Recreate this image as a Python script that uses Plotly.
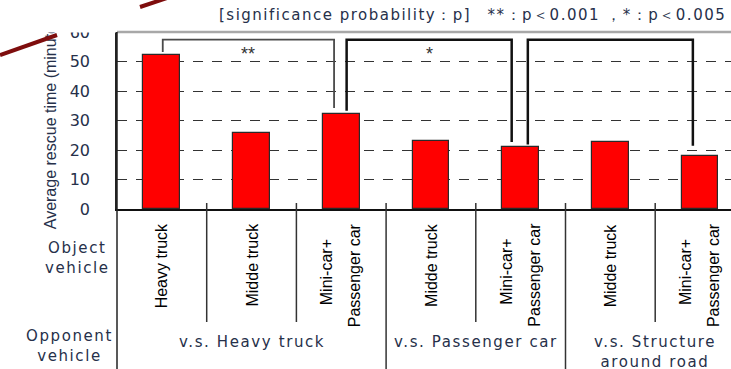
import plotly.graph_objects as go

# ---------------- data ----------------
object_vehicle = [["Heavy truck"], ["Midde truck"], ["Mini-car+", "Passenger car"],
                  ["Midde truck"], ["Mini-car+", "Passenger car"],
                  ["Midde truck"], ["Mini-car+", "Passenger car"]]
rescue_time = [52.2, 25.9, 32.2, 23.2, 21.1, 22.6, 18.0]
opponent_groups = ["v.s. Heavy truck", "v.s. Passenger car", "v.s. Structure<br>around road"]
group_sizes = [3, 2, 2]
y_ticks = [0, 10, 20, 30, 40, 50, 60]
row_titles = [["Object", "vehicle"], ["Opponent", "vehicle"]]
y_title = "Average rescue time (minutes)"
significance_note = "[significance probability：p]　**：p＜0.001 ，*：p＜0.005"
comparisons = [(0, 2, "**"), (2, 4, "*"), (4, 6, "")]

# ---------------- layout geometry ----------------
W, H = 731, 369
ML, MT, MB = 117, 32, 160
PH = H - MT - MB
PW = W - ML
COL = 89.7  # px per category
x_range = [-0.5, -0.5 + PW / COL]

def pyp(py):
    return (MT + PH - py) / PH

def pxp(px):
    return (px - ML) / PW

NAVY = "#26304a"
LS = "letter-spacing:1.6px"

def spaced(lines, ls=LS):
    return "<br>".join(f'<span style="{ls}">{t}</span>' for t in lines)

fig = go.Figure()
fig.add_trace(go.Bar(
    x=list(range(len(rescue_time))), y=rescue_time, width=0.41,
    marker=dict(color="#ff0000", line=dict(color="#2a2a2a", width=1.2)),
    showlegend=False, hoverinfo="skip"))
# carrier trace for the rotated axis title axis
fig.add_trace(go.Scatter(x=[0], y=[0], yaxis="y2", mode="markers",
                         marker=dict(opacity=0), showlegend=False, hoverinfo="skip"))

shapes = []
annotations = []

# top border
shapes.append(dict(type="line", xref="paper", yref="paper", x0=0, x1=1, y0=1, y1=1,
                   line=dict(color="#a8a8a8", width=2.5)))
# left axis line extended through the label table
shapes.append(dict(type="line", xref="paper", yref="paper", x0=0, x1=0, y0=pyp(H), y1=1,
                   line=dict(color="#222", width=1.5)))
# column separators
bounds = []
acc = 0
for s in group_sizes[:-1]:
    acc += s
    bounds.append(acc - 0.5)
for i in range(len(rescue_time) - 1):
    xb = i + 0.5
    long_ = any(abs(xb - b) < 1e-9 for b in bounds)
    shapes.append(dict(type="line", xref="x", yref="paper", x0=xb, x1=xb,
                       y0=pyp(203), y1=pyp(H if long_ else 322),
                       line=dict(color="#333", width=1.5)))

# significance brackets
bracket_style = [dict(color="#4a4a4a", width=1.8), dict(color="#111", width=2.5), dict(color="#111", width=2.5)]
leg_off = [(0.01, -0.08), (0.06, -0.1), (0.08, -0.08)]
leg_gap = [(1.0, 2.0), (1.1, 1.6), (0.8, 3.4)]
top_y = 57.4
for k, (a, b, mark) in enumerate(comparisons):
    xa = a + leg_off[k][0]
    xb = b + leg_off[k][1]
    ya = rescue_time[a] + leg_gap[k][0]
    yb = rescue_time[b] + leg_gap[k][1]
    shapes.append(dict(type="path", xref="x", yref="y",
                       path=f"M {xa} {ya} L {xa} {top_y} L {xb} {top_y} L {xb} {yb}",
                       line=bracket_style[k]))
    if mark:
        annotations.append(dict(x=(xa + xb) / 2, y=top_y - 5.0, xref="x", yref="y",
                                text=mark, showarrow=False,
                                font=dict(family="Liberation Sans", size=18, color="#333")))

# cover over the clipped top-left corner of the chart
shapes.append(dict(type="rect", xref="paper", yref="paper", layer="above",
                   x0=pxp(20), x1=pxp(116), y0=pyp(32.5), y1=pyp(0),
                   fillcolor="white", line=dict(width=0)))
# red slide decoration
for (x0, y0, x1, y1) in [(0, 55, 57, 35), (140, 7, 167, -2)]:
    shapes.append(dict(type="line", xref="paper", yref="paper", layer="above",
                       x0=pxp(x0), y0=pyp(y0), x1=pxp(x1), y1=pyp(y1),
                       line=dict(color="#7e0d0d", width=4)))

# rotated object-vehicle labels
for i, lines in enumerate(object_vehicle):
    if len(lines) == 1:
        annotations.append(dict(x=i, y=pyp(221), xref="x", yref="paper", text=lines[0],
                                textangle=-90, xanchor="center", yanchor="top", showarrow=False,
                                font=dict(family="Liberation Sans", size=16, color="black")))
    else:
        annotations.append(dict(x=i, y=pyp(272), xref="x", yref="paper", text=lines[0],
                                textangle=-90, xanchor="center", yanchor="middle", showarrow=False,
                                xshift=-15,
                                font=dict(family="Liberation Sans", size=16, color="black")))
        annotations.append(dict(x=i, y=pyp(221), xref="x", yref="paper", text=lines[1],
                                textangle=-90, xanchor="center", yanchor="top", showarrow=False,
                                xshift=13,
                                font=dict(family="Liberation Sans", size=16, color="black")))

# opponent group labels
start = 0
for g, s in zip(opponent_groups, group_sizes):
    cx = start + (s - 1) / 2
    annotations.append(dict(x=cx, y=pyp(331), xref="x", yref="paper",
                            text=spaced(g.split("<br>")), showarrow=False,
                            xanchor="center", yanchor="top",
                            font=dict(family="DejaVu Sans", size=15, color=NAVY)))
    start += s

# row titles
for lines, cx, cy in zip(row_titles, [77, 69], [257.5, 346]):
    annotations.append(dict(x=pxp(cx), y=pyp(cy), xref="paper", yref="paper",
                            text=spaced(lines), showarrow=False,
                            xanchor="center", yanchor="middle",
                            font=dict(family="DejaVu Sans", size=15, color=NAVY)))

# significance note
annotations.append(dict(x=pxp(728), y=pyp(15), xref="paper", yref="paper",
                        text=f'<span style="letter-spacing:1.5px">{significance_note}</span>',
                        showarrow=False, xanchor="right", yanchor="middle",
                        font=dict(family="DejaVu Sans", size=15, color=NAVY)))

fig.update_layout(
    width=W, height=H,
    margin=dict(l=ML, r=0, t=MT, b=MB, pad=0),
    paper_bgcolor="white", plot_bgcolor="white",
    bargap=0,
    xaxis=dict(range=x_range, showgrid=False, zeroline=False, showticklabels=False,
               showline=True, linecolor="#111", linewidth=1.5, ticks="", fixedrange=True),
    yaxis=dict(range=[0, 60], tickmode="array", tickvals=y_ticks,
               showgrid=True, gridcolor="#333", gridwidth=1.2, griddash="10px,9px",
               zeroline=False, showline=True, linecolor="#222", linewidth=1.5, ticks="",
               tickfont=dict(family="DejaVu Sans", size=16, color=NAVY),
               ticklabelstandoff=22),
    yaxis2=dict(overlaying="y", anchor="free", position=0, side="left", range=[0, 60],
                tickmode="array", tickvals=[29.2], ticktext=[y_title], tickangle=-90,
                showgrid=False, zeroline=False, showline=False, ticks="",
                tickfont=dict(family="Liberation Sans", size=16, color=NAVY),
                ticklabelstandoff=58),
    shapes=shapes, annotations=annotations,
)

fig.write_html("out.html", config={"displayModeBar": False},
               post_script="document.body.style.margin='0';document.body.style.overflow='hidden';")
